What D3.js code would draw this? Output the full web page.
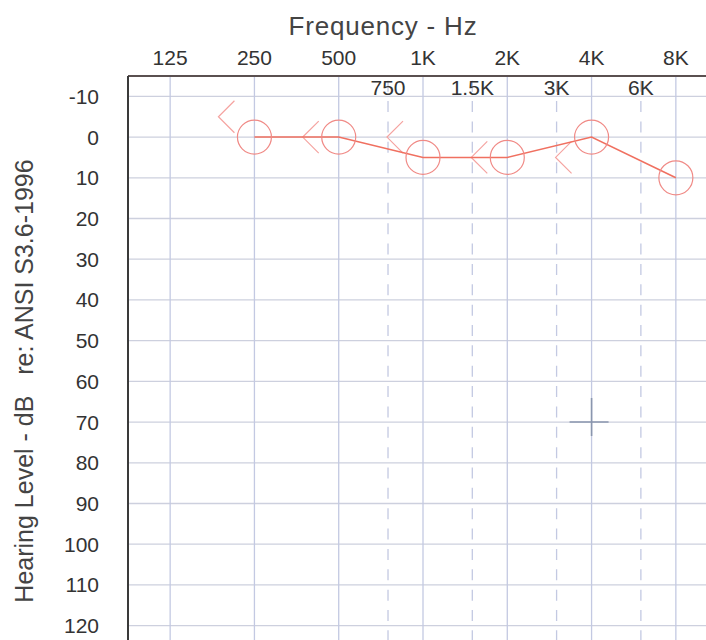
<!DOCTYPE html>
<meta charset="utf-8">
<script src="https://d3js.org/d3.v7.min.js"></script>
<style>
  body { margin: 0; background: #fff; }
  text { font-family: "Liberation Sans", Arial, sans-serif; fill: #333; }
</style>
<div id="my_dataviz"></div>
<script>
// frequencies and labels
var octaveFreqs = [125, 250, 500, 1000, 2000, 4000, 8000];
var octaveLabels = ["125", "250", "500", "1K", "2K", "4K", "8K"];
var midFreqs = [750, 1500, 3000, 6000];
var midLabels = ["750", "1.5K", "3K", "6K"];
var dbTicks = [-10, 0, 10, 20, 30, 40, 50, 60, 70, 80, 90, 100, 110, 120];

// right ear, air conduction (circles)
var acFreqs = [250, 500, 1000, 2000, 4000, 8000];
var acLevels = [0, 0, 5, 5, 0, 10];
// right ear, bone conduction (<)
var bcFreqs = [250, 500, 1000, 2000, 4000];
var bcLevels = [-5, 0, 0, 5, 5];
// cursor cross
var cursorFreq = [4000];
var cursorLevel = [70];

var width = 706, height = 640;

var svg = d3.select("#my_dataviz")
  .append("svg")
    .attr("width", width)
    .attr("height", height);

// log2 frequency scale, half an octave of room on each side
var x = d3.scaleLog().base(2)
  .domain([125 / Math.SQRT2, 8000 * Math.SQRT2])
  .range([128, 718]);

var y = d3.scaleLinear()
  .domain([-15, 125])
  .range([76, 646]);

var plotTop = y(-15), plotBottom = y(125);
var plotLeft = x(125 / Math.SQRT2), plotRight = x(8000 * Math.SQRT2);

// horizontal grid
svg.append("g")
  .selectAll("line")
  .data(dbTicks)
  .enter()
  .append("line")
    .attr("x1", plotLeft).attr("x2", plotRight)
    .attr("y1", function(d) { return y(d); })
    .attr("y2", function(d) { return y(d); })
    .style("stroke", "#cdd0de")
    .style("stroke-width", 1.3);

// octave verticals
svg.append("g")
  .selectAll("line")
  .data(octaveFreqs)
  .enter()
  .append("line")
    .attr("x1", function(d) { return x(d); })
    .attr("x2", function(d) { return x(d); })
    .attr("y1", plotTop).attr("y2", plotBottom)
    .style("stroke", "#c3c9e2")
    .style("stroke-width", 1.3);

// mid-octave dashed verticals
var period = (y(10) - y(0)) / 2;
var start = (y(-10) + 4.7 - plotTop) % period;
svg.append("g")
  .selectAll("line")
  .data(midFreqs)
  .enter()
  .append("line")
    .attr("x1", function(d) { return x(d); })
    .attr("x2", function(d) { return x(d); })
    .attr("y1", plotTop).attr("y2", plotBottom)
    .style("stroke", "#c3c9e2")
    .style("stroke-width", 1.3)
    .style("stroke-dasharray", "11," + (period - 11))
    .style("stroke-dashoffset", period - start);

// frame (left and top)
svg.append("line")
  .attr("x1", plotLeft).attr("x2", plotRight).attr("y1", plotTop).attr("y2", plotTop)
  .style("stroke", "#5a5050").style("stroke-width", 2);
svg.append("line")
  .attr("x1", plotLeft).attr("x2", plotLeft).attr("y1", plotTop).attr("y2", plotBottom)
  .style("stroke", "#3a3a3a").style("stroke-width", 2);

// titles
svg.append("text")
  .attr("x", 383).attr("y", 35)
  .attr("text-anchor", "middle")
  .style("font-size", "26px")
  .style("letter-spacing", "0.8px")
  .style("fill", "#444")
  .text("Frequency - Hz");

svg.append("text")
  .attr("transform", "translate(33,381) rotate(-90)")
  .attr("text-anchor", "middle")
  .style("font-size", "25px")
  .style("white-space", "pre")
  .style("fill", "#444")
  .text("Hearing Level - dB   re: ANSI S3.6-1996");

// octave labels above the frame
svg.append("g")
  .selectAll("text")
  .data(octaveFreqs)
  .enter()
  .append("text")
    .attr("x", function(d) { return x(d); })
    .attr("y", 65)
    .attr("text-anchor", "middle")
    .style("font-size", "21px")
    .text(function(d, i) { return octaveLabels[i]; });

// mid-octave labels inside the top row
svg.append("g")
  .selectAll("text")
  .data(midFreqs)
  .enter()
  .append("text")
    .attr("x", function(d) { return x(d); })
    .attr("y", y(-10) - 1.5)
    .attr("text-anchor", "middle")
    .style("font-size", "21px")
    .text(function(d, i) { return midLabels[i]; });

// dB labels
svg.append("g")
  .selectAll("text")
  .data(dbTicks)
  .enter()
  .append("text")
    .attr("x", 99)
    .attr("y", function(d) { return y(d); })
    .attr("dy", "0.36em")
    .attr("text-anchor", "end")
    .style("font-size", "21px")
    .text(function(d) { return d; });

// cursor cross
svg.append("g")
  .selectAll("path")
  .data(cursorFreq)
  .enter()
  .append("path")
    .attr("d", function(d, i) {
      var cx = x(d), cy = y(cursorLevel[i]);
      return "M" + (cx - 22) + "," + cy + "H" + (cx + 17) + "M" + cx + "," + (cy - 24) + "V" + (cy + 14);
    })
    .style("stroke", "#8a96ae")
    .style("stroke-width", 1.6);

// bone conduction marks
svg.append("g")
  .selectAll("path")
  .data(bcFreqs)
  .enter()
  .append("path")
    .attr("d", function(d, i) {
      var vx = x(d) - 36, vy = y(bcLevels[i]);
      return "M" + (vx + 16) + "," + (vy - 16) + "L" + vx + "," + vy + "L" + (vx + 16) + "," + (vy + 16);
    })
    .style("fill", "none")
    .style("stroke", "#f5a3a0")
    .style("stroke-width", 1.2);

// air conduction line
var line = d3.line()
  .x(function(d) { return x(d[0]); })
  .y(function(d) { return y(d[1]); });

svg.append("path")
  .datum(acFreqs.map(function(f, i) { return [f, acLevels[i]]; }))
  .attr("d", line)
  .style("fill", "none")
  .style("stroke", "#f07060")
  .style("stroke-width", 1.6);

// air conduction circles
svg.append("g")
  .selectAll("circle")
  .data(acFreqs)
  .enter()
  .append("circle")
    .attr("cx", function(d) { return x(d); })
    .attr("cy", function(d, i) { return y(acLevels[i]); })
    .attr("r", 17)
    .style("fill", "none")
    .style("stroke", "#f08a86")
    .style("stroke-width", 1.2);
</script>
